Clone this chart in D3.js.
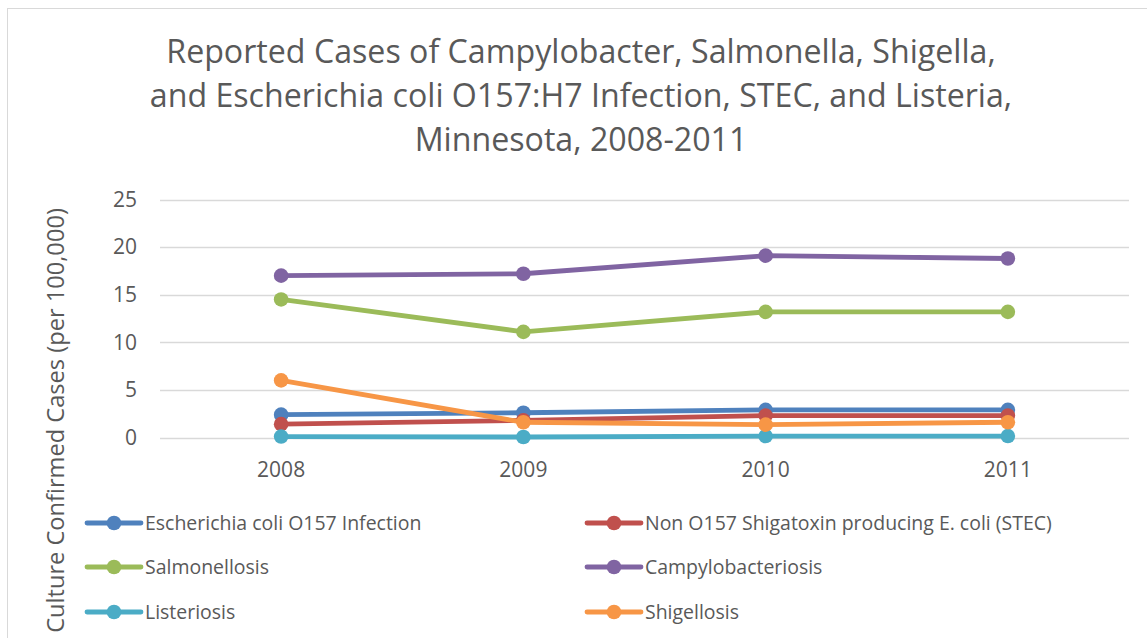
<!DOCTYPE html>
<html>
<head>
<meta charset="utf-8">
<script src="https://cdn.jsdelivr.net/npm/d3@7"></script>
<style>
  body { margin: 0; background: #fff; }
  text { font-family: "Open Sans", sans-serif; fill: #595959; }
</style>
</head>
<body>
<div id="container"></div>
<script>
/* CONSTANTS AND GLOBALS */
const width = 1147,
      height = 638,
      margin = {top: 199.5, left: 160, bottom: 200.5, right: 18};

/* DATA */
const years = ["2008", "2009", "2010", "2011"];
const yTicks = [0, 5, 10, 15, 20, 25];
const titleLines = [
  "Reported Cases of Campylobacter, Salmonella, Shigella,",
  "and Escherichia coli O157:H7 Infection, STEC, and Listeria,",
  "Minnesota, 2008-2011"
];
const yTitle = "Culture Confirmed Cases (per 100,000)";

const seriesNames = [
  "Escherichia coli O157 Infection",
  "Non O157 Shigatoxin producing E. coli (STEC)",
  "Salmonellosis",
  "Campylobacteriosis",
  "Listeriosis",
  "Shigellosis"
];
const seriesColors = ["#4F81BD", "#C0504D", "#9BBB59", "#8064A2", "#4BACC6", "#F79646"];

const ecoliO157     = [2.4, 2.6, 2.9, 2.9];
const stec          = [1.4, 1.8, 2.3, 2.3];
const salmonellosis = [14.5, 11.1, 13.2, 13.2];
const campylo       = [17.0, 17.2, 19.1, 18.8];
const listeriosis   = [0.1, 0.05, 0.15, 0.15];
const shigellosis   = [6.0, 1.6, 1.35, 1.6];

const seriesValues = [ecoliO157, stec, salmonellosis, campylo, listeriosis, shigellosis];

const series = seriesNames.map((name, i) => ({
  name: name,
  color: seriesColors[i],
  values: years.map((yr, j) => ({year: yr, value: seriesValues[i][j]}))
}));

// CREATE SVG ELEMENT
const svg = d3.select("#container")
              .append("svg")
              .attr("width", width)
              .attr("height", height)

// chart border (runs off the right/bottom of the picture)
svg.append("rect")
   .attr("x", 7.5)
   .attr("y", 8.5)
   .attr("width", 1170)
   .attr("height", 700)
   .attr("fill", "#fff")
   .attr("stroke", "#D9D9D9")

// shrink/grow font so text spans the wanted width
function fitText(sel, target) {
  const w = sel.node().getComputedTextLength();
  const fs = parseFloat(sel.attr("font-size"));
  sel.attr("font-size", fs * target / w);
  return fs * target / w;
}

// SCALES
const xScale = d3.scaleBand()
                 .domain(years)
                 .range([margin.left, width - margin.right])

const yScale = d3.scaleLinear()
                 .domain([0, 25])
                 .range([height - margin.bottom, margin.top])

// GRIDLINES
svg.append("g")
   .selectAll("line")
   .data(yTicks)
   .join("line")
   .attr("x1", margin.left)
   .attr("x2", width - margin.right)
   .attr("y1", d => Math.round(yScale(d)) + 0.5)
   .attr("y2", d => Math.round(yScale(d)) + 0.5)
   .attr("stroke", "#D9D9D9")
   .attr("stroke-width", 1.3)

// AXES (labels only, as in Excel)
const yAxis = d3.axisLeft(yScale).tickValues(yTicks).tickSize(0).tickPadding(0)
const gy = svg.append("g")
   .attr("transform", `translate(137,0)`)
   .call(yAxis)
gy.select(".domain").remove()
gy.selectAll("text").attr("font-size", 21).attr("fill", "#595959")
  .style("font-family", "'Open Sans', sans-serif")

const xAxis = d3.axisBottom(xScale).tickSize(0).tickPadding(0)
const gx = svg.append("g")
   .attr("transform", `translate(0,${yScale(0)})`)
   .call(xAxis)
gx.select(".domain").remove()
gx.selectAll("text").attr("font-size", 21).attr("fill", "#595959")
  .attr("dy", null).attr("y", 39)
  .style("font-family", "'Open Sans', sans-serif")

// TITLE
const titleFirst = svg.append("text")
   .attr("x", 581).attr("y", 63)
   .attr("text-anchor", "middle")
   .attr("font-size", 30)
   .text(titleLines[0])
const titleSize = fitText(titleFirst, 830)

svg.selectAll("text.title-rest")
   .data(titleLines.slice(1))
   .join("text")
   .attr("class", "title-rest")
   .attr("x", 581)
   .attr("y", (d, i) => 107 + i * 44)
   .attr("text-anchor", "middle")
   .attr("font-size", titleSize)
   .text(d => d)

// Y AXIS TITLE
const yt = svg.append("text")
   .attr("transform", "translate(64,420.5) rotate(-90)")
   .attr("text-anchor", "middle")
   .attr("font-size", 21)
   .text(yTitle)
fitText(yt, 425)

// LINE GENERATOR FUNCTION
const lineGen = d3.line()
                  .x(d => xScale(d.year) + xScale.bandwidth() / 2)
                  .y(d => yScale(d.value))

// DRAW LINES AND MARKERS
const sg = svg.selectAll("g.series")
   .data(series)
   .join("g")
   .attr("class", "series")

sg.append("path")
  .attr("fill", "none")
  .attr("stroke", d => d.color)
  .attr("stroke-width", 4.8)
  .attr("stroke-linejoin", "round")
  .attr("stroke-linecap", "round")
  .attr("d", d => lineGen(d.values))

sg.selectAll("circle")
  .data(d => d.values.map(v => ({...v, color: d.color})))
  .join("circle")
  .attr("cx", d => xScale(d.year) + xScale.bandwidth() / 2)
  .attr("cy", d => yScale(d.value))
  .attr("r", 7.3)
  .attr("fill", d => d.color)

// LEGEND
const legCols = [87, 587], legRows = [523, 567, 612];
const lg = svg.selectAll("g.legend")
   .data(series)
   .join("g")
   .attr("class", "legend")
   .attr("transform", (d, i) => `translate(${legCols[i % 2]},${legRows[Math.floor(i / 2)]})`)

lg.append("line")
  .attr("x1", 0).attr("x2", 54)
  .attr("stroke", d => d.color)
  .attr("stroke-width", 4.8)
  .attr("stroke-linecap", "round")
lg.append("circle")
  .attr("cx", 27).attr("r", 7.3)
  .attr("fill", d => d.color)
const legText = lg.append("text")
  .attr("x", 58).attr("dy", "0.36em")
  .attr("font-size", 20)
  .text(d => d.name)

const longest = legText.filter((d, i) => i === 1)
const legSize = fitText(longest, 407)
legText.attr("font-size", legSize)
</script>
</body>
</html>
